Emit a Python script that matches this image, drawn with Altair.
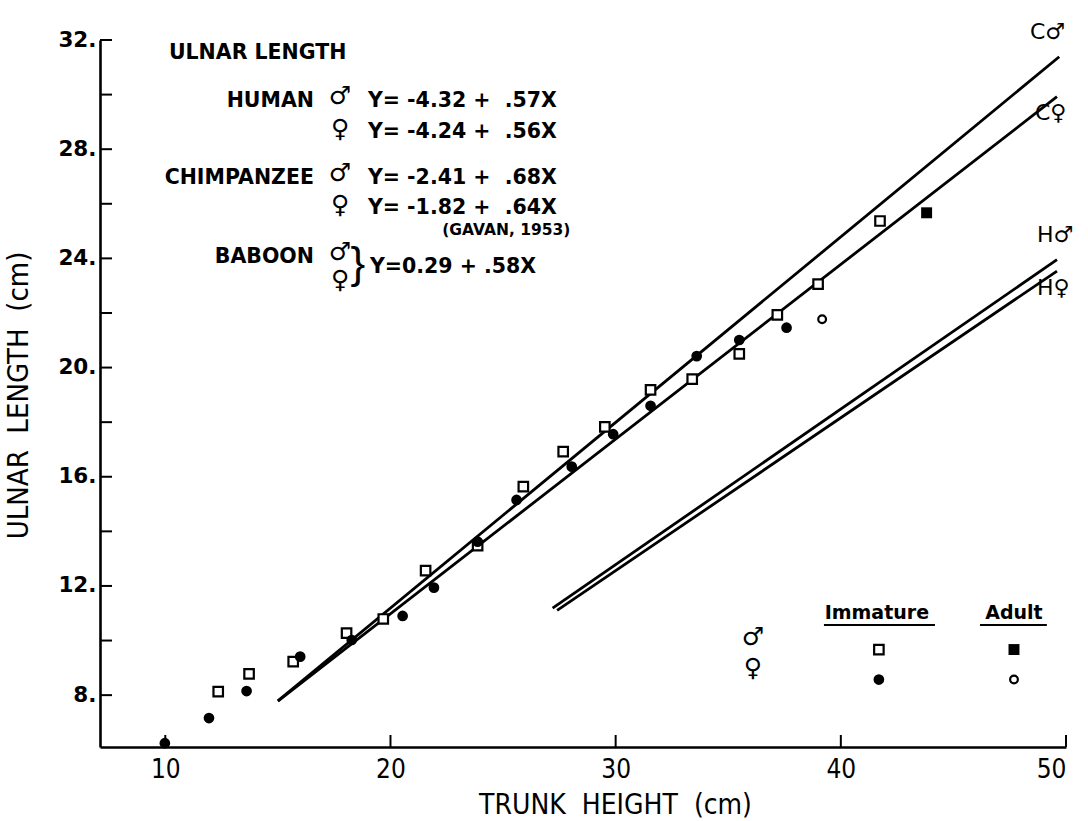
import altair as alt
import pandas as pd

# ---------------------------------------------------------------------------
# Measurements: trunk height (cm) vs ulnar length (cm)
# ---------------------------------------------------------------------------
imm_male_x = [12.35, 13.72, 15.68, 18.05, 19.68, 21.56, 23.87, 25.90, 27.67,
              29.52, 31.55, 33.40, 35.49, 37.18, 38.99, 41.74]
imm_male_y = [8.13, 8.78, 9.23, 10.27, 10.79, 12.56, 13.48, 15.64, 16.92,
              17.83, 19.18, 19.58, 20.50, 21.93, 23.06, 25.37]

imm_fem_x = [9.98, 11.94, 13.61, 15.99, 18.28, 20.54, 21.93, 23.87, 25.60,
             28.05, 29.89, 31.55, 33.60, 35.49, 37.59]
imm_fem_y = [6.24, 7.16, 8.15, 9.41, 10.02, 10.90, 11.94, 13.62, 15.15,
             16.37, 17.56, 18.60, 20.42, 21.01, 21.46]

adult_male_x = [43.81]
adult_male_y = [25.67]
adult_fem_x = [39.17]
adult_fem_y = [21.77]

# Regression lines Y = a + bX
line_labels = ["C♂", "C♀", "H♂", "H♀"]
line_intercepts = [-2.41, -1.82, -4.32, -4.24]
line_slopes = [0.68, 0.64, 0.57, 0.56]
line_x_from = [15.0, 15.0, 27.2, 27.4]
line_x_to = [49.7, 49.6, 49.6, 49.6]

# Equation block (non-breaking spaces keep the wide lettering gaps)
NB = "\u00a0"
species_names = ["HUMAN", "CHIMPANZEE", "BABOON"]
equation_texts = [f"Y={NB}-4.32{NB}+{NB}{NB}.57X", f"Y={NB}-4.24{NB}+{NB}{NB}.56X",
                  f"Y={NB}-2.41{NB}+{NB}{NB}.68X", f"Y={NB}-1.82{NB}+{NB}{NB}.64X"]
baboon_equation = f"Y=0.29{NB}+{NB}.58X"
source_note = "(GAVAN, 1953)"
block_title = "ULNAR LENGTH"

# Axes
x_ticks = [10, 20, 30, 40, 50]
y_major = [8, 12, 16, 20, 24, 28, 32]
y_minor = [10, 14, 18, 22, 26, 30]

# ---------------------------------------------------------------------------
W, H = 966, 707
LETTER = "DejaVu Sans"
NARROW = "DejaVu Sans Condensed, Liberation Sans Narrow, DejaVu Sans"

XS = alt.Scale(domain=[7.1, 50], nice=False, zero=False)
YS = alt.Scale(domain=[6.1, 32], nice=False, zero=False)

x_axis = alt.Axis(values=x_ticks, ticks=False, grid=False, domainColor="black",
                  domainWidth=2.6, labelFont=NARROW, labelFontSize=26,
                  labelColor="black", labelPadding=9,
                  title=f"TRUNK{NB}{NB}HEIGHT{NB}{NB}(cm)", titleFont=NARROW,
                  titleFontSize=28, titleFontWeight="normal", titleColor="black",
                  titleX=515, titleY=58, titleAlign="center", titleBaseline="middle")
y_axis = alt.Axis(values=y_major, ticks=False, grid=False, domainColor="black",
                  domainWidth=2.6, labelFont=LETTER, labelFontSize=21.5,
                  labelFontWeight="bold", labelColor="black", labelPadding=4,
                  labelExpr="datum.value + '.'",
                  title=f"ULNAR{NB}{NB}LENGTH{NB}{NB}(cm)", titleFont=NARROW,
                  titleFontSize=29, titleFontWeight="normal", titleColor="black",
                  titleAngle=270, titleX=-82, titleY=355, titleAlign="center",
                  titleBaseline="middle")


def X(field="x"):
    return alt.X(f"{field}:Q", scale=XS, axis=x_axis)


def Y(field="y"):
    return alt.Y(f"{field}:Q", scale=YS, axis=y_axis)


def frame(xs, ys, **extra):
    d = {"x": xs, "y": ys}
    d.update(extra)
    return pd.DataFrame(d)


# Regression line end points
line_rows = []
for name, a, b, x0, x1 in zip(line_labels, line_intercepts, line_slopes,
                              line_x_from, line_x_to):
    line_rows.append({"line": name, "x": x0, "y": a + b * x0})
    line_rows.append({"line": name, "x": x1, "y": a + b * x1})
lines_df = pd.DataFrame(line_rows)

lines = alt.Chart(lines_df).mark_line(color="black", strokeWidth=2.8).encode(
    x=X(), y=Y(), detail="line:N")

# Inward tick marks
xtick_layer = alt.Chart(pd.DataFrame({"x": x_ticks})).mark_rule(
    color="black", strokeWidth=2).encode(x=X(), y=alt.value(H), y2=alt.value(H - 12))
ytick_layer = alt.Chart(pd.DataFrame({"y": y_major + y_minor})).mark_rule(
    color="black", strokeWidth=2).encode(y=Y(), x=alt.value(0), x2=alt.value(12))


# Marker styles
def open_square(df):
    return alt.Chart(df).mark_point(shape="square", filled=True, fill="white",
                                    stroke="black", strokeWidth=2.2, size=90,
                                    opacity=1).encode(x=X(), y=Y())


def filled_circle(df):
    return alt.Chart(df).mark_circle(color="black", size=115, opacity=1).encode(
        x=X(), y=Y())


def filled_square(df):
    return alt.Chart(df).mark_square(color="black", size=120, opacity=1).encode(
        x=X(), y=Y())


def open_circle(df):
    return alt.Chart(df).mark_point(shape="circle", filled=True, fill="white",
                                    stroke="black", strokeWidth=2.2, size=60,
                                    opacity=1).encode(x=X(), y=Y())


points = [
    open_square(frame(imm_male_x, imm_male_y)),
    filled_circle(frame(imm_fem_x, imm_fem_y)),
    filled_square(frame(adult_male_x, adult_male_y)),
    open_circle(frame(adult_fem_x, adult_fem_y)),
]


def text_layer(df, align="left", size=20.5, weight="bold", font=LETTER):
    return alt.Chart(df).mark_text(align=align, baseline="middle", font=font,
                                   fontSize=size, fontWeight=weight,
                                   color="black").encode(x=X(), y=Y(), text="t:N")


# Equation block
title_txt = text_layer(frame([10.16], [31.52], t=[block_title]))
species_txt = text_layer(frame([16.60, 16.60, 16.60], [29.77, 26.95, 24.05],
                               t=species_names), align="right")
eq_txt = text_layer(frame([19.0, 19.0, 19.0, 19.0], [29.77, 28.63, 26.95, 25.85],
                          t=equation_texts))
gavan_txt = text_layer(frame([22.3], [25.04], t=[source_note]), size=15.5)
baboon_txt = text_layer(frame([19.09], [23.68], t=[baboon_equation]))
sex_syms = text_layer(frame([17.76] * 6, [29.95, 28.75, 27.12, 25.97, 24.25, 23.22],
                            t=["♂", "♀", "♂", "♀", "♂", "♀"]),
                      align="center", size=25, weight="normal")
brace = text_layer(frame([18.55], [23.74], t=["}"]), align="center", size=44,
                   weight="normal", font="Liberation Sans")

# Line labels
line_txt = text_layer(frame([48.40, 48.62, 48.71, 48.71], [32.29, 29.33, 24.86, 22.92],
                            t=line_labels), size=22, weight="normal")

# Key
key_head = text_layer(frame([41.60, 47.69], [11.01, 11.01], t=["Immature", "Adult"]),
                      align="center", size=19)
key_under = alt.Chart(pd.DataFrame({"x": [39.25, 46.18], "x2": [44.18, 49.15],
                                    "y": [10.57, 10.57]})).mark_rule(
    color="black", strokeWidth=2.2).encode(x=X(), x2="x2:Q", y=Y())
key_sex = text_layer(frame([36.10, 36.10], [10.12, 8.98], t=["♂", "♀"]),
                     align="center", size=25, weight="normal")
key_marks = [
    open_square(frame([41.69], [9.67])),
    filled_square(frame([47.69], [9.67])),
    filled_circle(frame([41.69], [8.57])),
    open_circle(frame([47.69], [8.57])),
]

chart = alt.layer(
    lines, xtick_layer, ytick_layer, *points,
    title_txt, species_txt, eq_txt, gavan_txt, baboon_txt, sex_syms, brace,
    line_txt, key_head, key_under, key_sex, *key_marks,
).properties(
    width=W, height=H,
    padding={"left": 100, "top": 40, "right": 22, "bottom": 74},
    autosize=alt.AutoSizeParams(type="none"),
    background="white",
).configure_view(stroke=None)

chart.save("out.html", embed_options={"renderer": "svg", "actions": False})
